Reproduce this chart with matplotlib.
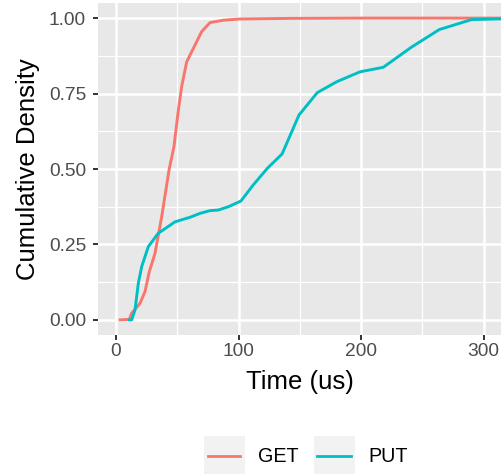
import matplotlib
matplotlib.use("Agg")
import matplotlib.pyplot as plt
from matplotlib.patches import Rectangle
from matplotlib.lines import Line2D

# ---- data ----
series_names = ["GET", "PUT"]
series_colors = ["#F8766D", "#00BFC4"]

get_time = [3.3, 10.9, 12.8, 19.6, 23.7, 27.2, 31.8, 37.3, 43.3, 47.3, 50.9, 53.6,
            57.7, 69.9, 76.7, 87.6, 101, 142, 200, 320]
get_cdf = [0, 0.002, 0.022, 0.055, 0.094, 0.16, 0.22, 0.342, 0.497, 0.574, 0.695, 0.773,
           0.855, 0.955, 0.985, 0.993, 0.997, 0.999, 1.0, 1.0]

put_time = [10.9, 12.8, 15.5, 18.2, 21, 26.4, 34.5, 48.2, 60.4, 68.6, 76.7, 83.5, 91.7,
            102, 112, 123.5, 135.6, 149.4, 164.3, 180.1, 199.2, 218.2, 241.3, 263.9,
            290.3, 320]
put_cdf = [0, 0, 0.033, 0.121, 0.177, 0.243, 0.287, 0.325, 0.34, 0.353, 0.362, 0.364,
           0.375, 0.394, 0.447, 0.502, 0.55, 0.679, 0.753, 0.789, 0.822, 0.837, 0.904,
           0.962, 0.995, 0.998]

x_ticks = [0, 100, 200, 300]
x_minor = [50, 150, 250]
y_ticks = [0.0, 0.25, 0.50, 0.75, 1.00]
y_tick_labels = ["0.00", "0.25", "0.50", "0.75", "1.00"]
y_minor = [0.125, 0.375, 0.625, 0.875]

plt.rcParams['font.family'] = ['Liberation Sans', 'DejaVu Sans']

W, H = 502, 474
fig = plt.figure(figsize=(W / 100, H / 100), dpi=100)

def fx(px):
    return px / W

def fy(py):
    return 1 - py / H

left, right, top, bottom = 98, 502, 3, 335
ax = fig.add_axes([fx(left), fy(bottom), fx(right - left), (bottom - top) / H])
ax.set_facecolor("#E8E8E8")
for s in ax.spines.values():
    s.set_visible(False)

ax.set_xlim(-14.7, 315.1)
ax.set_ylim(-0.05, 1.05)

for v in x_minor:
    ax.axvline(v, color="white", lw=0.9, zorder=0.5)
for v in y_minor:
    ax.axhline(v, color="white", lw=0.9, zorder=0.5)
for v in x_ticks:
    ax.axvline(v, color="white", lw=1.8, zorder=0.6)
for v in y_ticks:
    ax.axhline(v, color="white", lw=1.8, zorder=0.6)

ax.plot(get_time, get_cdf, color=series_colors[0], lw=2.1, zorder=2, clip_on=True)
ax.plot(put_time, put_cdf, color=series_colors[1], lw=2.1, zorder=3, clip_on=True)

ax.set_xticks(x_ticks)
ax.set_xticklabels([str(t) for t in x_ticks])
ax.set_yticks(y_ticks)
ax.set_yticklabels(y_tick_labels)
ax.tick_params(axis="both", colors="#333333", length=3.6, width=1.4, labelsize=13.8,
               labelcolor="#4D4D4D")
ax.tick_params(axis="x", pad=2.5)
ax.tick_params(axis="y", pad=5)

ax.set_xlabel("Time (us)", fontsize=18.5, color="black", labelpad=7)
ax.set_ylabel("Cumulative Density", fontsize=18.5, color="black", labelpad=6)

# ---- legend (ggplot style) ----
key_boxes = [(204, 245), (314, 355)]
text_x = [258, 368]
for i, name in enumerate(series_names):
    x0, x1 = key_boxes[i]
    fig.add_artist(Rectangle((fx(x0), fy(476)), fx(x1 - x0), (476 - 436) / H,
                             transform=fig.transFigure, facecolor="#F2F2F2",
                             edgecolor="none"))
    fig.add_artist(Line2D([fx(x0 + 3.5), fx(x1 - 4.5)], [fy(456), fy(456)],
                          transform=fig.transFigure, color=series_colors[i], lw=2.0))
    fig.text(fx(text_x[i]), fy(456), name, fontsize=14.2, va="center", ha="left",
             color="black")

fig.savefig("out.png", dpi=100)
